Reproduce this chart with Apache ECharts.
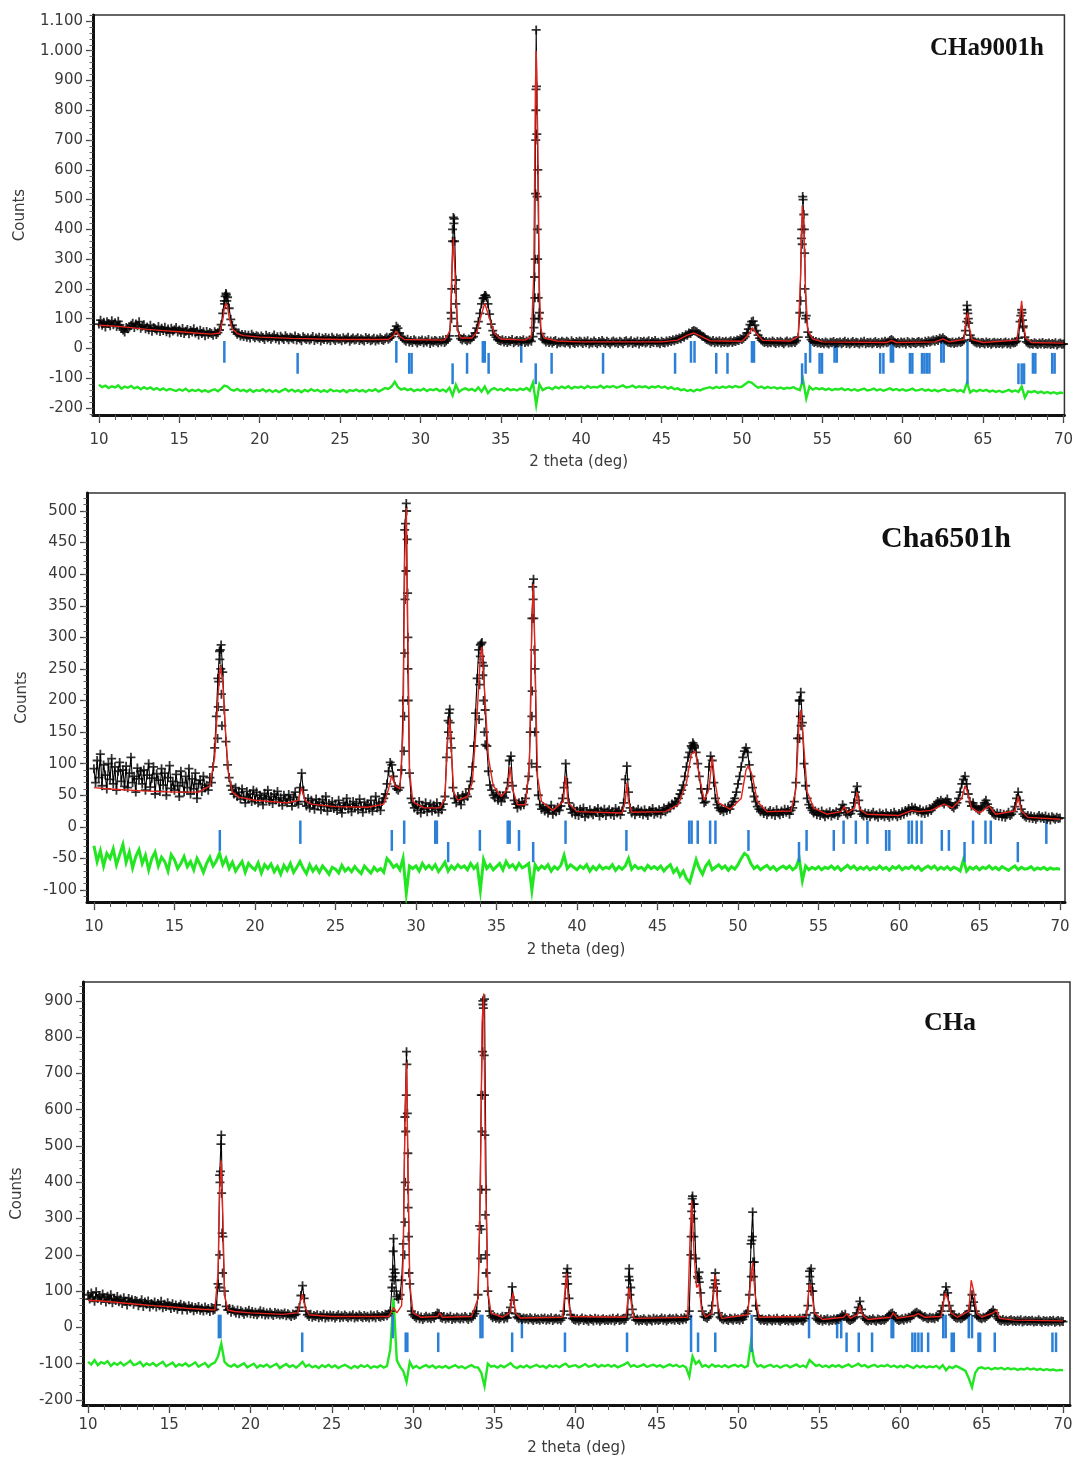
<!DOCTYPE html>
<html><head><meta charset="utf-8">
<script src="https://cdn.jsdelivr.net/npm/echarts@6/dist/echarts.min.js"></script>
<style>html,body{margin:0;padding:0;background:#fff}#c{width:1076px;height:1462px}</style>
</head><body><div id="c"></div>
<script>
// ---------- axis / tick labels ----------
const X0 = 10, OBS_STEP = 0.1, DIFF_STEP = 0.2;
const xTickLabels = [10,15,20,25,30,35,40,45,50,55,60,65,70];
const p1YTicks = [-200,-100,0,100,200,300,400,500,600,700,800,900,1000,1100];
const p2YTicks = [-100,-50,0,50,100,150,200,250,300,350,400,450,500];
const p3YTicks = [-200,-100,0,100,200,300,400,500,600,700,800,900];
const panelTitles = ['CHa9001h','Cha6501h','CHa'];

// ---------- Panel 1 (CHa9001h) ----------
const p1Obs = [
82,95,78,88,72,90,84,76,93,80,
86,74,91,79,68,62,55,70,66,72,
78,85,70,82,76,90,68,75,80,66,
72,63,78,58,70,66,61,74,57,68,
60,71,56,65,52,68,59,63,70,55,
62,54,67,50,58,64,49,60,55,66,
52,58,45,61,50,56,43,57,48,54,
50,44,56,47,53,62,80,118,160,185,
172,135,98,78,64,55,48,52,42,47,
40,46,38,44,35,48,41,36,43,39,
34,42,37,30,44,36,40,31,38,45,
33,39,28,41,35,30,43,36,29,38,
35,31,42,28,37,33,26,39,34,30,
36,28,33,40,27,35,31,38,25,34,
30,37,29,34,26,38,32,27,35,31,
33,26,36,29,32,38,24,31,35,28,
31,36,27,33,29,25,37,30,34,26,
29,34,25,32,28,36,30,27,33,38,
31,35,40,48,62,75,68,52,40,34,
28,24,31,22,27,20,29,25,18,26,
23,28,19,26,22,30,17,25,21,27,
24,19,27,22,28,20,25,31,42,120,
360,435,230,75,42,33,28,35,30,26,
32,29,36,40,52,68,90,118,150,168,
178,172,150,115,82,60,45,38,30,27,
25,29,22,27,20,26,23,30,19,24,
27,21,26,23,29,20,25,22,28,24,
40,240,1070,600,120,50,32,28,22,26,
20,25,18,23,27,16,22,19,24,21,
18,24,21,15,26,20,17,23,19,25,
22,17,24,19,26,15,21,18,25,20,
16,23,19,27,21,17,24,20,15,22,
25,19,22,17,24,21,16,23,26,18,
21,26,17,22,19,25,15,23,20,24,
18,22,26,17,23,20,27,19,21,16,
24,20,18,25,21,27,23,29,26,32,
30,35,33,40,38,46,44,52,50,57,
60,58,55,50,48,42,40,35,30,28,
25,22,27,19,24,21,26,18,23,20,
24,19,22,26,20,25,23,28,27,33,
30,34,40,52,65,80,90,92,78,60,
45,35,28,24,20,23,18,22,19,25,
21,17,23,19,24,20,16,22,25,18,
22,19,24,20,26,38,120,370,500,320,
110,55,38,30,24,20,23,18,21,17,
20,16,22,18,15,21,19,23,17,20,
18,22,16,20,24,17,21,15,19,23,
17,21,19,15,22,18,24,16,20,18,
21,16,19,23,17,20,15,22,18,24,
19,22,27,30,26,21,17,20,16,22,
18,21,15,23,19,16,22,20,17,21,
23,18,21,16,24,20,26,22,25,28,
24,30,27,34,31,36,30,26,22,20,
18,22,17,21,19,24,20,23,28,60,
145,85,45,30,25,22,18,21,16,20,
19,15,22,17,20,14,18,21,16,19,
17,20,15,18,22,16,19,14,21,18,
20,24,35,90,130,75,38,22,18,15,
17,14,19,16,13,18,15,20,14,17,
15,18,13,17,14,19,12,16,18,14,
15];
const p1ObsExtra = [[37.06,70],[37.1,100],[37.12,170],[37.14,300],[37.16,520],[37.17,700],[37.18,800],[37.19,870],
[37.22,880],[37.24,720],[37.26,510],[37.27,400],[37.29,300],[37.32,170],[37.35,100],
[31.93,100],[31.95,200],[32.0,400],[32.05,440],[32.08,420],[32.12,360],[32.15,200],[32.2,150],
[53.65,160],[53.72,400],[53.75,350],[53.78,510],[53.85,450],[53.88,400],[53.92,200],[53.95,100],
[63.98,90],[64.02,130],[64.05,118],[64.08,100],[67.35,110],[67.42,120],[67.45,95],[67.48,70],
[17.82,150],[17.85,175],[17.92,180],[17.95,160],[33.95,170],[34.05,178]];
const p1Calc = [[10,78],[11,75],[12,70],[13,64],[14,60],[15,56],[16,52],[17,48],[17.5,52],[17.7,95],[17.8,135],[17.9,152],[18.0,140],[18.1,105],[18.3,65],[18.6,50],[19,43],[20,38],[22,34],[25,30],[28,30],[28.3,42],[28.5,58],[28.7,42],[29,30],[31.5,28],[31.85,60],[31.95,250],[32.05,370],[32.15,250],[32.3,60],[32.5,35],[33.2,35],[33.5,55],[33.8,115],[34.0,152],[34.1,150],[34.3,100],[34.6,50],[35,32],[36.5,28],[36.9,40],[37.05,250],[37.15,870],[37.2,1000],[37.3,700],[37.4,200],[37.5,60],[37.7,35],[38.5,25],[40,22],[45,22],[46,28],[46.6,45],[47.0,52],[47.4,42],[48,26],[50,24],[50.4,45],[50.65,70],[50.9,50],[51.3,27],[53,25],[53.5,40],[53.65,250],[53.75,480],[53.85,430],[53.95,200],[54.1,60],[54.4,32],[55,22],[59,20],[59.3,27],[59.6,20],[62,22],[62.5,32],[62.9,22],[63.8,30],[63.95,100],[64.05,120],[64.15,70],[64.3,30],[65,20],[67.1,28],[67.3,110],[67.4,160],[67.5,90],[67.65,35],[68,20],[70,18]];
const p1Diff = [
-122,-130,-125,-133,-127, -131,-124,-135,-128,-132, -126,-134,-129,-137,-130, -136,-131,-138,-133,-140,
-134,-141,-136,-139,-143, -137,-142,-135,-144,-139, -143,-138,-145,-140,-146, -141,-137,-144,-136,-125,
-128,-138,-142,-136,-143, -139,-145,-138,-146,-140, -143,-137,-145,-139,-146, -140,-147,-141,-136,-144,
-138,-145,-140,-147,-139, -144,-137,-143,-139,-146, -140,-146,-138,-144,-141, -145,-139,-147,-140,-143,
-138,-144,-140,-146,-139, -143,-137,-145,-139,-133, -136,-128,-112,-130,-138, -134,-140,-136,-143,-138,
-141,-135,-143,-137,-140, -136,-143,-138,-145,-132, -158,-122,-146,-138,-134, -140,-136,-143,-131,-145,
-128,-150,-138,-133,-140, -136,-142,-134,-140,-137, -141,-135,-139,-133,-142, -115,-190,-120,-140,-134,
-131,-137,-129,-134,-128, -133,-127,-135,-129,-132, -128,-134,-126,-132,-129, -131,-125,-133,-127,-130,
-126,-132,-128,-124,-131, -129,-125,-132,-127,-130, -127,-133,-128,-131,-126, -132,-128,-135,-130,-137,
-134,-140,-137,-143,-139, -144,-138,-141,-136,-133, -130,-134,-129,-133,-128, -132,-127,-131,-126,-130,
-128,-120,-112,-115,-124, -132,-128,-134,-129,-133, -130,-135,-131,-136,-132, -134,-130,-136,-140,-105,
-168,-128,-138,-133,-137, -134,-139,-135,-140,-136, -138,-134,-140,-136,-141, -137,-142,-138,-135,-141,
-139,-135,-141,-137,-142, -138,-134,-140,-136,-141, -137,-142,-139,-135,-141, -140,-136,-142,-138,-143,
-139,-144,-140,-137,-143, -141,-138,-144,-140,-146, -115,-148,-140,-144,-139, -143,-139,-145,-141,-146,
-142,-147,-143,-139,-145, -141,-146,-128,-165,-144, -147,-143,-149,-145,-150, -146,-151,-147,-152,-148,
-150];
const p1BraggA = [17.8,28.5,33.88,34.0,36.27,46.83,47.05,50.62,50.75,54.24,55.76,55.9,59.26,59.4,62.4,62.55];
const p1BraggB = [22.36,29.3,29.45,32.9,34.24,38.16,41.36,45.84,48.4,49.1,53.96,54.83,54.98,58.6,58.8,60.45,60.6,61.2,61.35,61.5,61.66,68.1,68.25,69.3,69.45];
const p1BraggC = [32.0,37.17,53.74,67.2,67.4,67.55];
const p1BraggL = [64.03];

// ---------- Panel 2 (Cha6501h) ----------
const p2Obs = [
92,70,105,78,115,65,98,82,60,100,
75,108,68,95,58,88,102,72,90,64,
96,62,85,110,70,80,55,93,76,88,
68,90,58,82,100,63,77,95,52,84,
74,56,92,66,85,50,78,97,61,72,
58,83,65,48,88,70,55,80,62,92,
52,76,60,85,45,68,74,56,80,62,
66,58,78,70,95,125,175,235,278,288,
245,185,135,98,78,65,58,52,62,48,
55,44,60,48,38,56,45,52,40,58,
42,55,38,50,46,35,53,44,58,40,
48,37,52,43,56,39,46,34,50,42,
38,51,44,33,47,55,40,36,62,85,
58,40,33,45,30,42,36,28,44,34,
39,27,43,32,48,25,37,31,40,29,
35,26,42,30,22,38,33,45,28,36,
24,40,31,37,27,44,32,23,39,30,
36,28,42,25,34,48,30,38,26,40,
45,52,68,88,102,98,80,64,60,58,
62,90,200,470,512,250,85,45,38,30,
35,26,40,22,33,28,38,24,30,36,
25,34,28,38,23,32,27,36,48,110,
168,186,125,62,45,38,48,42,35,50,
44,52,48,60,72,95,128,180,235,280,
288,292,255,185,128,88,66,58,50,46,
54,42,50,40,48,46,55,70,105,112,
65,42,36,30,38,33,40,35,45,60,
80,150,330,392,250,95,50,35,28,32,
25,30,22,28,34,20,27,24,31,26,
33,45,62,100,70,38,28,22,30,19,
25,18,28,21,30,16,24,20,27,22,
19,26,23,29,17,25,21,28,18,24,
27,20,24,18,29,22,26,19,25,38,
75,96,55,30,22,26,19,24,28,21,
25,19,27,22,18,26,23,29,20,24,
22,27,20,25,30,24,28,33,30,36,
34,40,38,45,52,58,66,80,95,110,
118,128,133,125,118,100,80,60,45,38,
40,60,95,112,105,70,45,35,30,26,
28,24,30,26,32,28,35,40,45,55,
68,80,95,110,120,125,118,98,80,62,
48,40,32,28,24,27,21,25,19,23,
26,20,24,18,27,22,19,25,21,28,
23,27,20,26,30,40,70,140,200,213,
165,100,65,45,35,30,26,22,25,19,
23,18,25,20,16,22,19,24,17,21,
20,24,18,22,28,35,30,22,19,24,
21,26,38,55,64,42,25,20,17,22,
18,21,16,20,23,17,19,15,22,18,
20,16,22,18,15,21,17,23,19,16,
21,18,24,20,26,23,29,25,31,27,
30,26,24,28,22,25,21,27,23,29,
26,30,33,36,40,38,42,39,36,40,
44,38,35,32,30,34,38,45,55,68,
75,80,68,52,40,33,38,32,30,28,
26,30,33,38,42,36,30,26,22,20,
18,22,17,21,16,20,15,19,23,18,
20,24,32,45,55,42,28,20,17,15,
18,14,17,13,16,12,15,18,14,16,
13,17,12,15,11,16,14,12,15,13,
14];
const p2ObsExtra = [[29.26,120],[29.28,175],[29.3,275],[29.32,360],[29.35,480],[29.38,405],[29.42,500],[29.45,455],[29.48,370],[29.5,300],[29.52,200],
[37.18,100],[37.2,175],[37.22,215],[37.25,380],[37.28,360],[37.32,330],[37.35,280],[37.38,150],
[17.68,140],[17.72,190],[17.75,230],[17.82,265],[17.85,280],[17.88,250],[17.92,210],[17.95,160],
[33.92,170],[33.95,225],[34.0,270],[34.05,290],[34.12,260],[34.15,240],[34.2,200],[34.25,150],[34.3,130],
[32.02,150],[32.05,180],[32.12,165],[32.15,140],[53.82,140],[53.85,200],[53.88,175],[53.92,160],
[47.15,125],[47.25,130],[47.3,128]];
const p2Calc = [[10,62],[11,60],[13,57],[15,55],[16.5,55],[17.2,65],[17.5,110],[17.7,205],[17.85,255],[18.0,230],[18.15,160],[18.35,85],[18.6,55],[19,47],[20,42],[22,38],[22.7,42],[22.9,62],[23.1,42],[23.5,36],[25,32],[27,31],[28,36],[28.3,60],[28.5,82],[28.7,65],[29.0,60],[29.2,150],[29.3,420],[29.4,505],[29.5,300],[29.6,90],[29.8,40],[30.5,30],[31.5,30],[31.8,45],[31.95,130],[32.1,172],[32.2,120],[32.35,55],[32.6,42],[33.2,48],[33.5,70],[33.8,180],[34.0,270],[34.1,285],[34.25,220],[34.5,110],[34.8,65],[35.3,48],[35.7,60],[35.85,95],[36.0,60],[36.3,35],[36.8,35],[37.05,100],[37.2,330],[37.3,385],[37.4,260],[37.55,80],[37.8,40],[38.5,26],[39.15,40],[39.3,80],[39.45,38],[40,24],[42.8,22],[43.0,40],[43.1,70],[43.2,40],[43.4,23],[45.5,24],[46.3,35],[46.8,70],[47.1,115],[47.35,120],[47.6,80],[47.9,42],[48.2,60],[48.4,110],[48.55,75],[48.8,38],[49.5,28],[50.2,45],[50.5,90],[50.65,97],[50.9,80],[51.2,40],[51.8,24],[53.3,25],[53.6,60],[53.8,170],[53.9,185],[54.05,140],[54.3,55],[54.7,30],[55.5,20],[56.4,24],[56.6,32],[56.8,22],[57.25,30],[57.4,55],[57.55,28],[58,20],[60,18],[60.8,26],[61.2,24],[62,26],[62.8,36],[63.3,30],[63.9,45],[64.1,65],[64.25,55],[64.5,30],[65,22],[65.6,33],[66,20],[67.2,25],[67.4,48],[67.6,25],[68,15],[70,12]];
const p2Diff = [
-30,-55,-38,-62,-42, -50,-35,-60,-44,-28, -56,-40,-65,-47,-36, -58,-45,-68,-50,-40,
-62,-48,-55,-70,-44, -52,-66,-58,-47,-63, -55,-68,-50,-60,-72, -58,-48,-62,-54,-42,
-60,-50,-66,-56,-70, -62,-55,-72,-58,-64, -68,-57,-73,-60,-66, -59,-71,-63,-75,-61,
-69,-58,-72,-64,-55, -66,-74,-60,-70,-63, -72,-62,-68,-75,-64, -67,-73,-61,-70,-65,
-71,-63,-69,-74,-62, -68,-73,-64,-70,-66, -72,-50,-56,-64,-60, -68,-50,-105,-62,-66,
-62,-70,-58,-66,-61, -67,-60,-71,-64,-56, -70,-62,-67,-60,-65, -62,-68,-58,-66,-60,
-100,-52,-66,-60,-68, -63,-58,-68,-55,-64, -60,-67,-58,-65,-62, -58,-100,-60,-68,-62,
-66,-60,-70,-63,-67, -61,-45,-66,-60,-64, -68,-62,-66,-60,-70, -63,-68,-61,-67,-64,
-66,-60,-69,-63,-67, -62,-50,-67,-61,-66, -64,-69,-61,-66,-63, -67,-62,-70,-64,-60,
-72,-66,-78,-70,-82, -88,-70,-52,-66,-75, -62,-55,-68,-64,-60, -66,-62,-69,-63,-67,
-60,-50,-42,-46,-58, -66,-62,-68,-64,-61, -67,-63,-69,-65,-62, -66,-62,-68,-64,-50,
-85,-62,-68,-64,-67, -63,-68,-64,-66,-62, -67,-63,-69,-65,-61, -66,-62,-68,-64,-67,
-63,-68,-64,-67,-62, -67,-64,-69,-63,-66, -62,-68,-64,-66,-62, -67,-63,-69,-65,-62,
-66,-62,-68,-64,-67, -63,-68,-64,-66,-70, -52,-70,-64,-67,-63, -68,-64,-66,-62,-67,
-64,-68,-63,-66,-69, -65,-62,-68,-64,-67, -66,-63,-68,-65,-67, -64,-68,-65,-67,-66,
-67];
const p2BraggA = [22.82,29.27,31.2,31.3,35.7,35.82,39.29,46.97,47.12,47.5,48.27,48.6,56.56,57.32,58.04,60.6,60.8,61.1,61.4,64.6,65.37,65.7,69.15];
const p2BraggB = [17.82,28.5,33.97,36.4,43.07,50.65,54.26,55.95,59.2,59.4,62.66,63.1];
const p2BraggC = [32.0,37.28,53.79,64.07,67.38];
const p2BraggL = [];

// ---------- Panel 3 (CHa) ----------
const p3Obs = [
90,78,95,84,72,98,80,88,75,92,
82,70,86,76,90,68,80,74,85,71,
78,66,82,72,62,80,70,76,64,74,
72,60,68,76,58,70,64,73,56,66,
62,70,56,66,60,72,54,64,58,68,
60,52,65,55,62,50,58,64,48,60,
56,48,60,52,57,46,55,50,58,47,
53,45,56,48,52,44,55,47,50,62,
120,420,530,250,100,58,48,52,42,50,
45,40,48,38,46,42,36,44,40,47,
38,44,36,42,35,40,46,37,43,34,
40,35,42,37,33,41,36,39,34,38,
35,40,32,38,34,30,37,33,36,45,
55,88,115,80,45,35,30,36,28,33,
30,35,27,33,29,36,26,32,28,34,
29,33,26,31,35,27,32,28,34,30,
27,32,29,35,26,31,28,34,30,27,
33,28,31,26,34,29,32,27,35,30,
28,33,30,36,32,38,45,110,245,150,
85,78,90,130,230,580,760,380,120,45,
35,30,26,32,24,29,22,27,31,25,
28,24,30,26,33,40,38,28,25,30,
23,28,25,31,22,27,24,29,26,23,
28,24,30,26,22,29,25,31,38,45,
90,280,640,890,905,380,100,45,32,27,
30,25,28,23,27,31,24,29,26,40,
55,112,75,38,28,24,27,22,26,23,
25,21,27,23,19,26,22,24,20,25,
22,26,20,24,21,27,19,23,25,21,
24,20,26,45,120,162,80,35,25,22,
20,24,18,22,26,19,23,21,17,24,
22,18,25,20,23,17,21,24,19,22,
19,23,20,25,18,22,26,19,21,24,
20,24,35,162,110,50,28,20,23,18,
22,19,24,20,17,23,21,18,25,20,
23,19,22,26,20,24,18,22,25,21,
24,20,26,22,19,25,21,27,23,30,
45,200,362,340,190,140,152,95,45,30,
28,25,30,36,60,110,150,100,40,28,
24,21,26,22,19,25,23,20,26,22,
24,20,26,22,30,38,45,90,230,318,
180,60,32,24,20,23,19,22,18,24,
21,18,23,19,25,20,17,22,24,19,
22,18,24,20,17,23,19,21,25,20,
18,24,35,60,155,162,100,40,25,21,
19,23,17,22,20,24,18,21,19,23,
20,24,22,28,34,30,36,25,21,19,
22,24,28,40,55,72,50,30,24,20,
18,22,19,24,20,17,23,21,19,22,
20,24,28,34,38,40,33,26,22,19,
21,24,20,26,23,28,25,32,36,40,
42,38,36,32,28,30,26,24,28,25,
27,24,30,28,35,45,60,90,112,95,
60,45,35,30,27,25,28,24,26,30,
32,36,45,60,90,70,45,32,28,26,
24,28,26,30,34,38,42,48,40,30,
24,20,18,22,17,20,16,19,21,17,
19,16,20,17,21,15,18,20,16,19,
17,20,15,18,16,21,17,14,19,16,
18,15,19,16,20,14,17,19,15,18,
16];
const p3ObsExtra = [[18.08,110],[18.1,200],[18.12,400],[18.15,430],[18.18,505],[18.22,370],[18.25,260],[18.28,150],
[29.48,200],[29.5,290],[29.52,400],[29.55,540],[29.58,640],[29.62,725],[29.65,590],[29.68,480],[29.7,330],[29.72,250],[29.75,150],
[28.76,140],[28.78,210],[28.82,160],[28.84,130],[28.85,100],
[34.18,190],[34.2,270],[34.22,380],[34.24,540],[34.26,640],[34.28,760],[34.3,900],[34.33,880],[34.38,750],[34.4,640],[34.42,530],[34.45,310],[34.47,200],[34.5,150],
[47.12,250],[47.15,320],[47.18,355],[47.22,340],[47.25,300],[47.28,250],[47.55,135],[47.62,125],
[50.82,140],[50.85,240],[50.88,250],[50.92,180],[50.95,140],
[39.45,150],[39.48,140],[39.52,120],[43.28,140],[43.32,130],[43.35,90],[54.42,140],[54.47,120],[54.5,100],[48.58,130],[48.62,120]];
const p3Calc = [[10,75],[11,72],[12,68],[13,64],[14,60],[15,57],[16,53],[17,50],[17.8,48],[18.0,150],[18.1,380],[18.2,460],[18.3,300],[18.4,90],[18.6,48],[19,44],[20,40],[22,36],[22.9,40],[23.15,85],[23.2,92],[23.35,55],[23.6,35],[25,30],[28.5,30],[28.8,55],[29.0,40],[29.3,60],[29.4,200],[29.5,560],[29.6,730],[29.7,400],[29.8,120],[30.0,40],[30.5,28],[31.5,30],[31.65,40],[31.8,28],[33.6,30],[34.0,80],[34.15,400],[34.25,840],[34.35,920],[34.45,450],[34.6,100],[34.8,40],[35.5,28],[35.95,40],[36.15,95],[36.3,40],[36.6,26],[39.2,28],[39.35,100],[39.45,150],[39.55,80],[39.7,30],[43.1,28],[43.3,110],[43.45,60],[43.6,25],[46.9,28],[47.05,250],[47.15,350],[47.3,200],[47.45,110],[47.6,120],[47.75,50],[48.0,28],[48.4,40],[48.6,145],[48.75,60],[49,25],[50.6,35],[50.8,140],[50.9,180],[51.05,90],[51.3,28],[54.2,30],[54.4,120],[54.5,110],[54.7,40],[55.2,22],[56.5,28],[56.7,38],[56.9,25],[57.35,35],[57.5,60],[57.65,35],[58,22],[59.4,28],[59.55,40],[59.8,25],[60.8,32],[61.1,38],[61.5,28],[62.5,30],[62.75,95],[62.9,80],[63.1,40],[63.5,28],[64.2,45],[64.35,130],[64.5,100],[64.7,40],[65,28],[65.7,40],[65.9,48],[66.1,25],[67,20],[70,18]];
const p3Diff = [
-95,-102,-90,-104,-96, -100,-93,-106,-98,-103, -96,-105,-99,-92,-104, -101,-95,-107,-99,-104,
-98,-106,-100,-95,-107, -102,-97,-108,-101,-105, -99,-107,-102,-96,-108, -103,-98,-109,-101,-97,
-80,-45,-95,-104,-108, -102,-109,-104,-99,-110, -105,-100,-111,-104,-108, -102,-110,-105,-100,-112,
-106,-101,-109,-104,-111, -104,-95,-108,-103,-110, -106,-112,-104,-109,-103, -110,-105,-112,-107,-103,
-108,-113,-106,-111,-104, -109,-104,-112,-107,-110, -105,-111,-106,-60,80, -90,-108,-120,-150,-95,
-112,-106,-113,-108,-104, -110,-105,-112,-107,-111, -106,-112,-108,-104,-111, -107,-113,-108,-104,-110,
-110,-125,-162,-100,-108, -106,-111,-105,-110,-104, -98,-108,-112,-106,-110, -105,-111,-107,-103,-109,
-106,-112,-104,-109,-105, -110,-104,-100,-109,-106, -104,-110,-106,-101,-108, -106,-102,-109,-104,-107,
-103,-108,-104,-110,-106, -102,-96,-108,-104,-109, -106,-102,-109,-105,-103, -108,-104,-110,-106,-102,
-107,-103,-109,-105,-110, -135,-80,-100,-92,-108, -104,-110,-102,-108,-105, -109,-104,-110,-106,-103,
-108,-104,-110,-106,-40, -95,-108,-104,-110,-106, -103,-109,-105,-111,-106, -104,-110,-106,-102,-109,
-105,-110,-90,-98,-106, -103,-109,-105,-110,-104, -108,-104,-110,-106,-102, -109,-105,-100,-107,-104,
-110,-106,-103,-109,-105, -107,-103,-109,-105,-110, -106,-110,-104,-108,-112, -105,-110,-106,-111,-107,
-110,-106,-113,-104,-118, -108,-112,-106,-110,-115, -120,-140,-165,-125,-112, -110,-114,-111,-116,-112,
-114,-111,-116,-112,-115, -113,-117,-114,-116,-112, -116,-113,-117,-114,-118, -115,-118,-116,-119,-117,
-118];
const p3BraggA = [18.05,18.15,28.75,34.15,34.27,36.7,54.37,56.1,56.35,59.45,59.55,62.63,62.78,64.2,64.4];
const p3BraggB = [23.18,29.55,29.65,31.55,36.1,39.35,43.17,47.54,48.6,56.68,57.43,58.25,60.73,60.9,61.1,61.3,61.7,63.15,63.28,64.8,64.9,65.8,69.35,69.57];
const p3BraggC = [];
const p3BraggL = [47.11,50.84];

// ---------- layout / style (not data) ----------
const FONT = '"DejaVu Sans", sans-serif';
const panels = [
  {obs:p1Obs, extra:p1ObsExtra, calc:p1Calc, diff:p1Diff, bragg:[p1BraggA,p1BraggB,p1BraggC,p1BraggL], yTicks:p1YTicks,
   levels:[[25,-48],[-15,-85],[-50,-120],[25,-120]], diffWidth:2.4,
   grid:{left:93,top:15,width:974,height:400}, xMin:9.63, xMax:70.06, yMin:-223.5, yMax:1120,
   xLabelMargin:18, xNameGap:40, yNameGap:65, yMinor:20, title:{x:987,y:49,size:25}},
  {obs:p2Obs, extra:p2ObsExtra, calc:p2Calc, diff:p2Diff, bragg:[p2BraggA,p2BraggB,p2BraggC,p2BraggL], yTicks:p2YTicks,
   levels:[[10,-27],[-5,-38],[-24,-56],[10,-56]], diffWidth:3,
   grid:{left:87,top:493,width:978,height:409}, xMin:9.57, xMax:70.31, yMin:-119, yMax:528.5,
   xLabelMargin:18, xNameGap:41, yNameGap:57, yMinor:10, title:{x:946,y:539,size:30}},
  {obs:p3Obs, extra:p3ObsExtra, calc:p3Calc, diff:p3Diff, bragg:[p3BraggA,p3BraggB,p3BraggC,p3BraggL], yTicks:p3YTicks,
   levels:[[35,-30],[-14,-68],[-14,-68],[35,-68]], diffWidth:2.4,
   grid:{left:83,top:982,width:987,height:423}, xMin:9.69, xMax:70.43, yMin:-213.8, yMax:952,
   xLabelMargin:13, xNameGap:36, yNameGap:58, yMinor:20, title:{x:950,y:1023,size:26}}
];

const xMinorTicks = []; for (let v = 10; v <= 70; v++) xMinorTicks.push(v);
function fmtY(v){ return Math.abs(v) >= 1000 ? String(v).replace(/(\d)(\d{3})$/, '$1.$2') : String(v); }
const plusSymbol = 'path://M4,0H6V4H10V6H6V10H4V6H0V4H4Z';

const grids = [], xAxes = [], yAxes = [], series = [], graphics = [];
panels.forEach((p, i) => {
  grids.push(Object.assign({show:true, borderColor:'#333', borderWidth:1.5, backgroundColor:'#fff'}, p.grid));
  xAxes.push({type:'value', gridIndex:i, position:'bottom', min:p.xMin, max:p.xMax,
    axisLine:{show:true, onZero:false, lineStyle:{color:'#111', width:3}},
    axisTick:{show:true, customValues:xTickLabels, length:8, lineStyle:{color:'#444', width:1.3}},
    axisLabel:{customValues:xTickLabels, margin:p.xLabelMargin, fontSize:15, color:'#3a3a3a', fontFamily:FONT},
    splitLine:{show:false},
    name:'2 theta (deg)', nameLocation:'middle', nameGap:p.xNameGap, nameTextStyle:{fontSize:15, color:'#3a3a3a', fontFamily:FONT}});
  const yMinors = []; for (let v = Math.ceil(p.yMin / p.yMinor) * p.yMinor; v <= p.yMax; v += p.yMinor) yMinors.push(v);
  yAxes.push({type:'value', gridIndex:i, position:'left', min:p.yMin, max:p.yMax,
    axisLine:{show:true, onZero:false, lineStyle:{color:'#111', width:3}},
    axisTick:{show:true, customValues:p.yTicks, length:7, lineStyle:{color:'#444', width:1.3}},
    axisLabel:{customValues:p.yTicks, margin:10, fontSize:15, color:'#3a3a3a', fontFamily:FONT, formatter:fmtY},
    splitLine:{show:false},
    name:'Counts', nameLocation:'middle', nameGap:p.yNameGap, nameTextStyle:{fontSize:15, color:'#3a3a3a', fontFamily:FONT}});
  p._yMinors = yMinors;
});
// minor-tick axes (no line, no labels)
panels.forEach((p, i) => {
  xAxes.push({type:'value', gridIndex:i, position:'bottom', min:p.xMin, max:p.xMax,
    axisLine:{show:false, onZero:false}, axisLabel:{show:false}, splitLine:{show:false},
    axisTick:{show:true, customValues:xMinorTicks, length:5, lineStyle:{color:'#555', width:1}}});
  yAxes.push({type:'value', gridIndex:i, position:'left', min:p.yMin, max:p.yMax,
    axisLine:{show:false, onZero:false}, axisLabel:{show:false}, splitLine:{show:false},
    axisTick:{show:true, customValues:p._yMinors, length:3.5, lineStyle:{color:'#666', width:1}}});
});

panels.forEach((p, i) => {
  const gridPts = p.obs.map((v, k) => [Math.round((X0 + k * OBS_STEP) * 100) / 100, v]);
  const obsPts = gridPts.concat(p.extra);
  const diffPts = p.diff.map((v, k) => [Math.round((X0 + k * DIFF_STEP) * 100) / 100, v]);
  const braggPts = [];
  p.bragg.forEach((arr, lv) => arr.forEach(x => braggPts.push([x, lv])));
  const levels = p.levels;
  series.push({type:'line', xAxisIndex:i, yAxisIndex:i, data:diffPts, showSymbol:false, symbol:'none',
    lineStyle:{color:'#22e622', width:p.diffWidth, join:'miter'}, z:2, silent:true});
  series.push({type:'custom', xAxisIndex:i, yAxisIndex:i, data:braggPts, encode:{x:0}, z:3, silent:true,
    renderItem:function(params, api){
      const x = api.value(0), lv = levels[api.value(1)];
      const a = api.coord([x, lv[0]]), b = api.coord([x, lv[1]]);
      return {type:'line', shape:{x1:a[0], y1:a[1], x2:b[0], y2:b[1]}, style:{stroke:'#2b7fd6', lineWidth:2.5}};
    }});
  series.push({type:'line', xAxisIndex:i, yAxisIndex:i, data:gridPts, showSymbol:false, symbol:'none',
    lineStyle:{color:'#000', width:1.1}, z:4, silent:true});
  series.push({type:'scatter', xAxisIndex:i, yAxisIndex:i, data:obsPts, symbol:plusSymbol, symbolSize:9,
    itemStyle:{color:'#000'}, z:4, silent:true, large:false});
  series.push({type:'line', xAxisIndex:i, yAxisIndex:i, data:p.calc, showSymbol:false, symbol:'none',
    lineStyle:{color:'#e3231c', width:1.4}, z:5, silent:true});
  graphics.push({type:'text', x:p.title.x, y:p.title.y, z:100,
    style:{text:panelTitles[i], fontFamily:'"Liberation Serif", serif', fontWeight:'bold', fontSize:p.title.size,
      fill:'#111', align:'center', verticalAlign:'middle'}});
});

const chart = echarts.init(document.getElementById('c'), null, {renderer:'canvas'});
chart.setOption({animation:false, backgroundColor:'#fff', grid:grids, xAxis:xAxes, yAxis:yAxes, series:series, graphic:graphics});
</script></body></html>
